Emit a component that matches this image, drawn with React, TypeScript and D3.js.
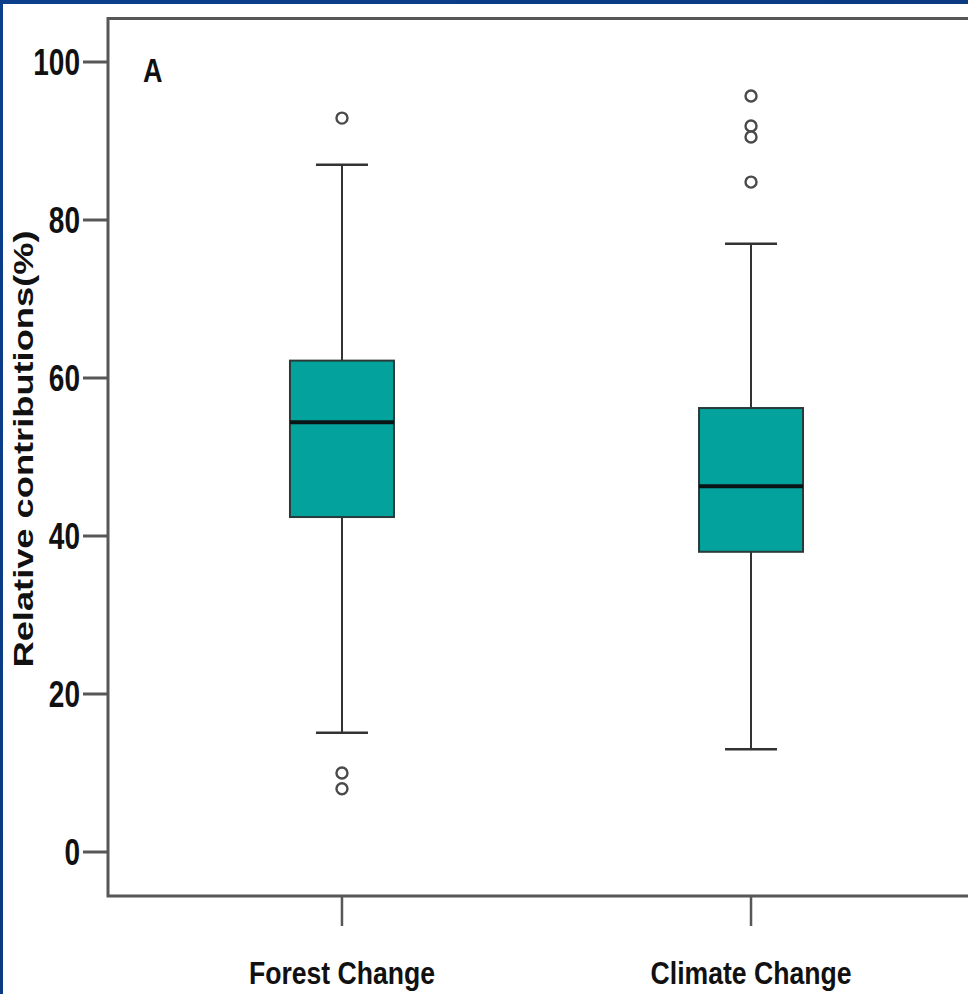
import React from "react";
import * as d3 from "d3";

const categories = ["Forest Change", "Climate Change"];
const q1 = [42.4, 38.0];
const median = [54.4, 46.3];
const q3 = [62.2, 56.2];
const whiskerLow = [15.1, 13.0];
const whiskerHigh = [87.0, 77.0];
const outliers = [
  [92.9, 10.0, 8.0],
  [95.7, 91.9, 90.5, 84.8],
];
const yTicks = [0, 20, 40, 60, 80, 100];

const W = 968;
const H = 994;

export default function App() {
  const y = d3.scaleLinear().domain([0, 100]).range([852, 62]);
  const x = d3.scalePoint<string>().domain(categories).range([108, 985]).padding(0.572);
  const left = 108;
  const top = 18.5;
  const bottom = 896;
  const boxW = 104;
  const capW = 52;
  const axisColor = "#575757";
  const font = "Liberation Sans, Arial, Helvetica, sans-serif";

  return (
    <div style={{ position: "absolute", left: 0, top: 0 }}>
      <svg width={W} height={H} style={{ display: "block" }}>
        <defs>
          <linearGradient id="bg" x1="0" y1="0" x2="1" y2="1">
            <stop offset="0" stopColor="#0b3f8c" />
            <stop offset="1" stopColor="#0a3578" />
          </linearGradient>
        </defs>
        <rect x={0} y={0} width={W} height={H} fill="url(#bg)" />
        <rect x={3} y={4} width={W - 3} height={H - 4} fill="#ffffff" />

        {/* frame */}
        <path
          d={`M${W + 5},${top} H${left} V${bottom} H${W + 5}`}
          fill="none"
          stroke={axisColor}
          strokeWidth={3}
        />

        {/* y ticks */}
        {yTicks.map((t) => (
          <g key={t}>
            <line x1={83} x2={left} y1={y(t)} y2={y(t)} stroke={axisColor} strokeWidth={3} />
            <text
              transform={`translate(80,${y(t)}) scale(1,1.3)`}
              textAnchor="end"
              dy="0.36em"
              fontFamily={font}
              fontWeight="bold"
              fontSize={28}
              fill="#111"
            >
              {t}
            </text>
          </g>
        ))}

        {/* y title */}
        <text
          transform={`translate(33,449) rotate(-90)`}
          textAnchor="middle"
          fontFamily={font}
          fontWeight="bold"
          fontSize={27}
          textLength={437}
          lengthAdjust="spacingAndGlyphs"
          fill="#111"
        >
          Relative contributions(%)
        </text>

        {/* panel letter */}
        <text
          transform="translate(143,82) scale(1,1.2)"
          fontFamily={font}
          fontWeight="bold"
          fontSize={27}
          fill="#111"
        >
          A
        </text>

        {/* x ticks and labels */}
        {categories.map((c) => (
          <g key={c}>
            <line
              x1={x(c)}
              x2={x(c)}
              y1={bottom}
              y2={926}
              stroke={axisColor}
              strokeWidth={2.5}
            />
            <text
              transform={`translate(${x(c)},984) scale(1,1.15)`}
              textAnchor="middle"
              fontFamily={font}
              fontWeight="bold"
              fontSize={26.6}
              fill="#111"
            >
              {c}
            </text>
          </g>
        ))}

        {/* boxes */}
        {categories.map((c, i) => {
          const cx = x(c) as number;
          return (
            <g key={c}>
              <line x1={cx} x2={cx} y1={y(whiskerHigh[i])} y2={y(q3[i])} stroke="#333" strokeWidth={2} />
              <line x1={cx} x2={cx} y1={y(q1[i])} y2={y(whiskerLow[i])} stroke="#333" strokeWidth={2} />
              <line
                x1={cx - capW / 2}
                x2={cx + capW / 2}
                y1={y(whiskerHigh[i])}
                y2={y(whiskerHigh[i])}
                stroke="#333"
                strokeWidth={2.5}
              />
              <line
                x1={cx - capW / 2}
                x2={cx + capW / 2}
                y1={y(whiskerLow[i])}
                y2={y(whiskerLow[i])}
                stroke="#333"
                strokeWidth={2.5}
              />
              <rect
                x={cx - boxW / 2}
                y={y(q3[i])}
                width={boxW}
                height={y(q1[i]) - y(q3[i])}
                fill="#03a29c"
                stroke="#2a3a3a"
                strokeWidth={2}
              />
              <line
                x1={cx - boxW / 2}
                x2={cx + boxW / 2}
                y1={y(median[i])}
                y2={y(median[i])}
                stroke="#0a1414"
                strokeWidth={4}
              />
              {outliers[i].map((o, j) => (
                <circle
                  key={j}
                  cx={cx}
                  cy={y(o)}
                  r={5.5}
                  fill="#fff"
                  stroke="#4a4a4a"
                  strokeWidth={2.4}
                />
              ))}
            </g>
          );
        })}
      </svg>
    </div>
  );
}
